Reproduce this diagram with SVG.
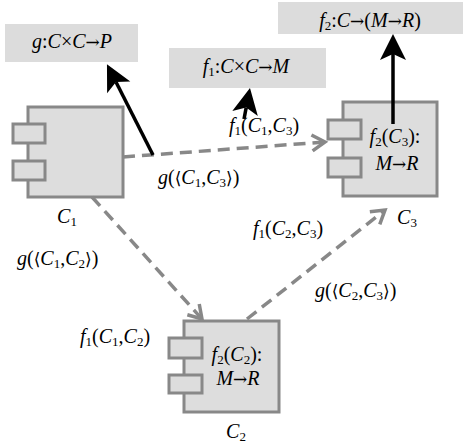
<svg xmlns="http://www.w3.org/2000/svg" width="464" height="444" viewBox="0 0 464 444">
<style>
.t{font-family:"Liberation Serif","Times New Roman",serif;font-size:20px;fill:#000}
.i{font-style:italic}
.s{font-size:13px}
.a{font-family:"DejaVu Serif",serif;font-size:17px}
.box{fill:#dcdcdc;stroke:none}
.comp{fill:#dddddd;stroke:#888;stroke-width:3}
.dash{fill:none;stroke:#888;stroke-width:3.5;stroke-dasharray:12,7}
.blk{fill:none;stroke:#000;stroke-width:3.5}
</style>
<defs>
<marker id="chev" markerUnits="userSpaceOnUse" markerWidth="30" markerHeight="30" refX="0" refY="0" viewBox="-20 -15 30 30" orient="auto" overflow="visible">
<path d="M-13,-8 L0,0 L-13,8" fill="none" stroke="#888" stroke-width="3.5"/>
</marker>
<marker id="head" markerUnits="userSpaceOnUse" markerWidth="40" markerHeight="40" refX="6" refY="0" viewBox="-5 -20 40 40" orient="auto" overflow="visible">
<path d="M0,-13 L26,0 L0,13 L6,0 Z" fill="#000"/>
</marker>
</defs>

<g id="type-g">
<rect class="box" x="5" y="24" width="133" height="38"/>
<text class="t" x="72" y="48" text-anchor="middle"><tspan class="i">g</tspan>:<tspan class="i">C</tspan>×<tspan class="i">C</tspan><tspan class="a">→</tspan><tspan class="i">P</tspan></text>
</g>
<g id="type-f1">
<rect class="box" x="169" y="48" width="157" height="40"/>
<text class="t" x="246" y="73" text-anchor="middle"><tspan class="i">f</tspan><tspan class="s" dy="3">1</tspan><tspan dy="-3">:</tspan><tspan class="i">C</tspan>×<tspan class="i">C</tspan><tspan class="a">→</tspan><tspan class="i">M</tspan></text>
</g>
<g id="type-f2">
<rect class="box" x="278" y="2" width="185" height="32"/>
<text class="t" x="370" y="27" text-anchor="middle"><tspan class="i">f</tspan><tspan class="s" dy="3">2</tspan><tspan dy="-3">:</tspan><tspan class="i">C</tspan><tspan class="a">→</tspan>(<tspan class="i">M</tspan><tspan class="a">→</tspan><tspan class="i">R</tspan>)</text>
</g>

<g id="C1">
<rect class="comp" x="28" y="107" width="95" height="90"/>
<rect class="comp" x="13" y="124" width="32" height="19"/>
<rect class="comp" x="13" y="161" width="32" height="19"/>
<text class="t" x="67" y="223" text-anchor="middle"><tspan class="i">C</tspan><tspan class="s" dy="3">1</tspan></text>
</g>
<g id="C3">
<rect class="comp" x="343" y="102" width="94" height="94"/>
<rect class="comp" x="328" y="120" width="33" height="19"/>
<rect class="comp" x="328" y="158" width="33" height="19"/>
<text class="t" x="395" y="143" text-anchor="middle"><tspan class="i">f</tspan><tspan class="s" dy="3">2</tspan><tspan dy="-3">(</tspan><tspan class="i">C</tspan><tspan class="s" dy="3">3</tspan><tspan dy="-3">):</tspan></text>
<text class="t" x="397" y="170" text-anchor="middle"><tspan class="i">M</tspan><tspan class="a">→</tspan><tspan class="i">R</tspan></text>
<text class="t" x="407" y="224" text-anchor="middle"><tspan class="i">C</tspan><tspan class="s" dy="3">3</tspan></text>
</g>
<g id="C2">
<rect class="comp" x="184" y="321" width="95" height="91"/>
<rect class="comp" x="169" y="338" width="33" height="20"/>
<rect class="comp" x="169" y="375" width="33" height="18"/>
<text class="t" x="237" y="361" text-anchor="middle"><tspan class="i">f</tspan><tspan class="s" dy="3">2</tspan><tspan dy="-3">(</tspan><tspan class="i">C</tspan><tspan class="s" dy="3">2</tspan><tspan dy="-3">):</tspan></text>
<text class="t" x="238" y="385" text-anchor="middle"><tspan class="i">M</tspan><tspan class="a">→</tspan><tspan class="i">R</tspan></text>
<text class="t" x="236" y="438" text-anchor="middle"><tspan class="i">C</tspan><tspan class="s" dy="3">2</tspan></text>
</g>

<g id="connectors">
<line class="dash" x1="123" y1="157" x2="325" y2="142" marker-end="url(#chev)"/>
<line class="dash" x1="92" y1="197" x2="202" y2="319" marker-end="url(#chev)"/>
<line class="dash" x1="247" y1="319" x2="385" y2="210" marker-end="url(#chev)"/>
<line class="blk" x1="153" y1="155" x2="116" y2="82" marker-end="url(#head)"/>
<line class="blk" x1="393" y1="124" x2="393" y2="54" marker-end="url(#head)"/>
<line class="blk" x1="244" y1="119" x2="246.2" y2="107.6" marker-end="url(#head)"/>
<text class="t" x="229" y="132"><tspan class="i">f</tspan><tspan class="s" dy="3">1</tspan><tspan dy="-3">(</tspan><tspan class="i">C</tspan><tspan class="s" dy="3">1</tspan><tspan dy="-3">,</tspan><tspan class="i">C</tspan><tspan class="s" dy="3">3</tspan><tspan dy="-3">)</tspan></text>
<text class="t" x="158" y="184"><tspan class="i">g</tspan>(<tspan class="a">⟨</tspan><tspan class="i">C</tspan><tspan class="s" dy="3">1</tspan><tspan dy="-3">,</tspan><tspan class="i">C</tspan><tspan class="s" dy="3">3</tspan><tspan class="a" dy="-3">⟩</tspan>)</text>
<text class="t" x="17" y="265"><tspan class="i">g</tspan>(<tspan class="a">⟨</tspan><tspan class="i">C</tspan><tspan class="s" dy="3">1</tspan><tspan dy="-3">,</tspan><tspan class="i">C</tspan><tspan class="s" dy="3">2</tspan><tspan class="a" dy="-3">⟩</tspan>)</text>
<text class="t" x="80" y="343"><tspan class="i">f</tspan><tspan class="s" dy="3">1</tspan><tspan dy="-3">(</tspan><tspan class="i">C</tspan><tspan class="s" dy="3">1</tspan><tspan dy="-3">,</tspan><tspan class="i">C</tspan><tspan class="s" dy="3">2</tspan><tspan dy="-3">)</tspan></text>
<text class="t" x="253" y="235"><tspan class="i">f</tspan><tspan class="s" dy="3">1</tspan><tspan dy="-3">(</tspan><tspan class="i">C</tspan><tspan class="s" dy="3">2</tspan><tspan dy="-3">,</tspan><tspan class="i">C</tspan><tspan class="s" dy="3">3</tspan><tspan dy="-3">)</tspan></text>
<text class="t" x="315" y="297"><tspan class="i">g</tspan>(<tspan class="a">⟨</tspan><tspan class="i">C</tspan><tspan class="s" dy="3">2</tspan><tspan dy="-3">,</tspan><tspan class="i">C</tspan><tspan class="s" dy="3">3</tspan><tspan class="a" dy="-3">⟩</tspan>)</text>
</g>
</svg>
